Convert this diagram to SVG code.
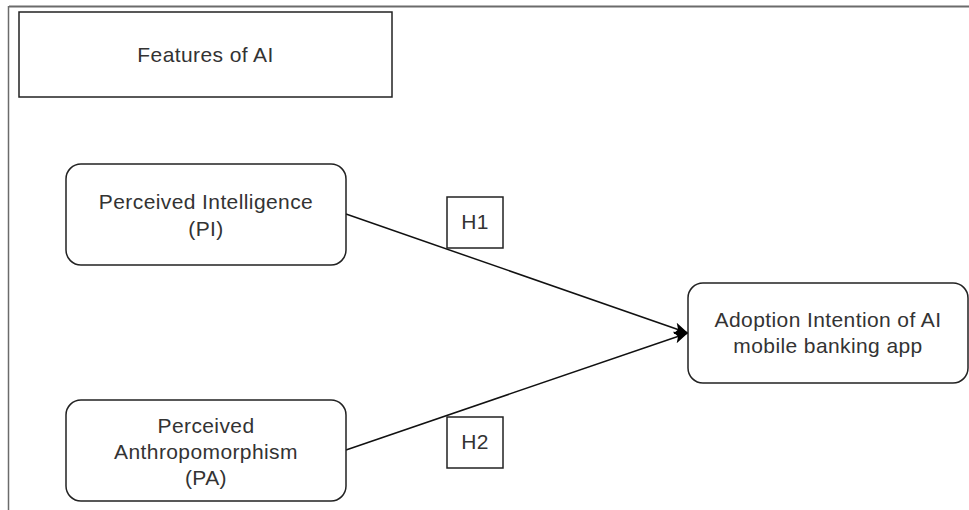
<svg xmlns="http://www.w3.org/2000/svg" width="969" height="510" viewBox="0 0 969 510">
  <defs>
    <style>
      .box { fill: #ffffff; stroke: #222222; stroke-width: 1.5; }
      .lbl { font-family: "Liberation Sans", Arial, sans-serif; font-size: 21px; fill: #333333; text-anchor: middle; letter-spacing: 0.4px; }
      .edge { fill: none; stroke: #111111; stroke-width: 1.5; }
      .frame { stroke: #6b6b6b; fill: none; }
    </style>
    <marker id="arrow" viewBox="0 0 14 14" refX="14" refY="7" markerWidth="14" markerHeight="14" markerUnits="userSpaceOnUse" orient="auto">
      <path d="M0,1 L14,7 L0,13 L3.5,7 Z" fill="#000000"/>
    </marker>
  </defs>
  <rect width="969" height="510" fill="#ffffff"/>
  <g id="frame">
    <line class="frame" x1="9" y1="6.5" x2="969" y2="6.5" stroke-width="2"/>
    <line class="frame" x1="8.5" y1="6" x2="8.5" y2="510" stroke-width="1.5"/>
  </g>
  <g id="edges">
    <line class="edge" x1="346" y1="214" x2="688" y2="333" marker-end="url(#arrow)"/>
    <line class="edge" x1="346" y1="450" x2="688" y2="333" marker-end="url(#arrow)"/>
  </g>
  <g id="features">
    <rect class="box" x="19" y="12" width="373" height="85"/>
    <text class="lbl" x="205.5" y="62">Features of AI</text>
  </g>
  <g id="pi">
    <rect class="box" x="66" y="164" width="280" height="101" rx="15" ry="15"/>
    <text class="lbl" x="206" y="209">Perceived Intelligence</text>
    <text class="lbl" x="206" y="236">(PI)</text>
  </g>
  <g id="pa">
    <rect class="box" x="66" y="400" width="280" height="101" rx="15" ry="15"/>
    <text class="lbl" x="206" y="433">Perceived</text>
    <text class="lbl" x="206" y="459">Anthropomorphism</text>
    <text class="lbl" x="206" y="485">(PA)</text>
  </g>
  <g id="adoption">
    <rect class="box" x="688" y="283" width="280" height="100" rx="15" ry="15"/>
    <text class="lbl" x="828" y="327">Adoption Intention of AI</text>
    <text class="lbl" x="828" y="353">mobile banking app</text>
  </g>
  <g id="h1">
    <rect class="box" x="447" y="197" width="56" height="51"/>
    <text class="lbl" x="475" y="229">H1</text>
  </g>
  <g id="h2">
    <rect class="box" x="447" y="417" width="56" height="51"/>
    <text class="lbl" x="475" y="449">H2</text>
  </g>
</svg>
